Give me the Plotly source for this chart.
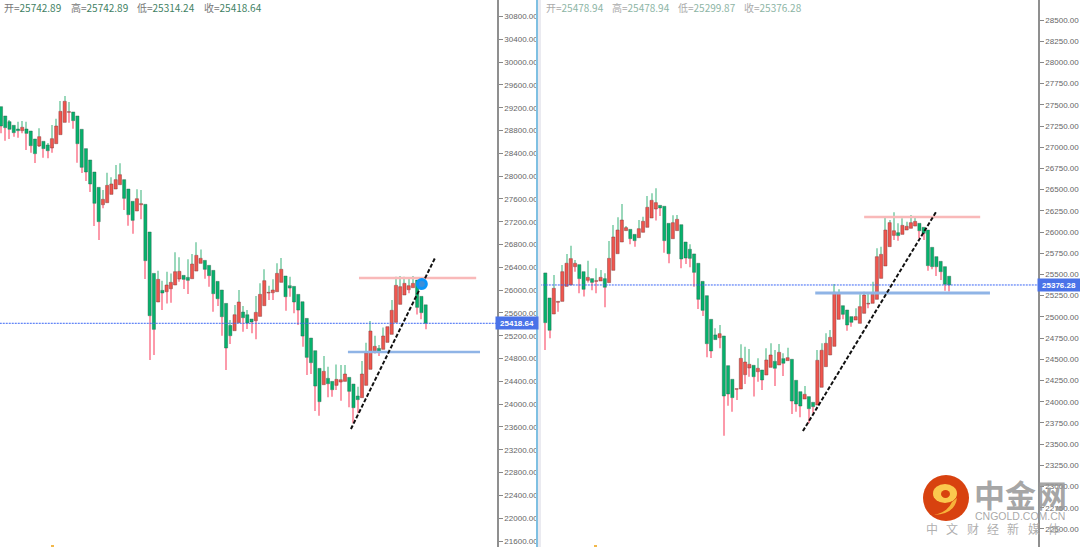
import plotly.graph_objects as go

W, H = 1080, 547

# ---------- left panel data ----------
left_open = [29218,29055,28955,28891,28826,28797,28826,28791,28651,28528,28610,28546,28493,28569,28727,28943,29119,29125,29055,28821,
28482,28283,28072,27803,27499,27534,27680,27774,27850,27938,27774,27558,27388,27499,27505,27020,26294,25792,25996,25973,
26025,26090,26195,26259,26224,26201,26335,26470,26522,26435,26347,26154,26002,25768,25382,25289,25429,25616,25569,25493,
25464,25540,25727,25950,25955,25973,26137,26248,26078,26066,25926,25797,25505,25160,24938,24628,24342,24453,24400,24330,
24389,24400,24470,24353,24143,24114,24330,24611,24938,24979,24962,25084,25225,25435,25751,25915,26008,26043,26178,25891,25742.89]
left_high = [29218,29055,28984,28891,28955,28967,28955,28791,28651,28838,28610,28575,28897,29008,29318,29405,29300,29125,29055,28821,
28482,28283,28072,27803,27757,28060,27979,28195,28224,27938,27774,27558,27768,27757,27505,27020,26294,26341,26166,26324,
26294,26663,26575,26259,26540,26634,26838,26715,26522,26435,26347,26154,26002,25768,25476,25739,26002,25721,25651,25493,
25897,26119,26365,26078,26189,26470,26563,26248,26236,26066,25926,25797,25505,25160,24938,24628,24845,24658,24400,24698,
24687,24687,24470,24353,24307,24757,25078,25459,25201,25038,25347,25359,25827,26236,26248,26236,26225,26248,26178,25891,25742.89]
left_low = [28750,28622,28651,28692,28674,28750,28458,28411,28230,28517,28324,28312,28411,28569,28727,28943,28938,28832,28236,28055,
27914,27721,27125,26879,27435,27534,27680,27774,27850,27406,27131,26990,27388,27242,26195,24774,24862,25792,25651,25768,
25780,26090,26148,26020,25932,26201,26335,26470,26201,26061,25622,25721,25201,24599,25055,25289,25429,25271,25318,25242,
25137,25540,25727,25827,25827,25973,26137,25640,25885,25593,25388,25008,24511,24529,23880,23798,24342,24120,24131,24248,
24061,24400,23944,23664,23839,24114,24330,24611,24891,24845,24962,25084,25225,25435,25751,25915,25944,26043,25575,25488,25314.24]
left_close = [28879,28850,28821,28762,28797,28856,28750,28534,28394,28692,28482,28446,28657,28879,29136,29312,29131,28973,28569,28154,
28072,27862,27523,27201,27593,27838,27862,27938,28025,27610,27324,27224,27604,27517,26517,25552,25312,26189,25950,26090,
26137,26324,26330,26189,26172,26458,26610,26558,26365,26254,25938,25850,25534,24985,25201,25569,25792,25517,25423,25441,
25610,25926,26166,25961,26002,26294,26365,25885,26037,25792,25651,25195,24821,24728,24318,24044,24576,24359,24254,24435,
24429,24529,24225,23938,24079,24529,24897,25283,25014,24932,25196,25359,25646,26084,26061,26119,26078,26119,25698,25605,25418.64]

# ---------- right panel data ----------
right_open = [25518,25223,25034,25172,25183,25360,25376,25592,25616,25533,25431,25451,25419,25423,25451,25404,25549,25745,25883,26017,
26032,25973,25934,25997,26056,26166,26272,26315,26304,26103,25922,26017,26087,25883,25797,25742,25632,25419,25250,24971,
24787,24755,24775,24425,24264,24146,24150,24319,24398,24429,24354,24374,24315,24405,24476,24433,24508,24484,24500,24252,
24118,24032,24060,23993,23961,24170,24413,24551,24653,24971,25132,25081,25003,24963,24924,25042,25152,25160,25207,25454,
25600,25828,25961,25993,25973,26024,26044,26071,26103,26056,26024,25820,25710,25655,25592,25478.94]
right_high = [25518,25223,25494,25183,25612,25742,25840,25671,25616,25533,25663,25451,25573,25553,25514,25895,26083,26174,26331,26060,
26032,25973,26142,26182,26425,26457,26516,26315,26304,26103,26197,26201,26087,25883,25856,25742,25632,25419,25250,24971,
24865,24904,24775,24425,24264,24154,24676,24649,24621,24429,24511,24374,24629,24688,24610,24680,24570,24637,24500,24252,
24118,24185,24060,23993,24610,24688,24806,24846,25388,25325,25132,25081,25003,25101,25266,25297,25278,25415,25808,25828,
26189,26142,26233,26103,26162,26123,26201,26182,26103,26056,26024,25820,25710,25655,25592,25478.94]
right_low = [24610,24747,25034,25062,25183,25360,25376,25533,25278,25239,25404,25313,25278,25423,25113,25404,25549,25745,25883,26017,
25856,25828,25934,25997,26056,26166,26135,26190,25757,25632,25922,26017,25573,25624,25584,25356,25093,25011,24523,24515,
24732,24629,23600,23953,23883,24020,24150,24209,24295,24060,24236,24138,24315,24405,24185,24433,24303,24484,23855,23883,
23816,24032,23745,23863,23961,24170,24413,24551,24653,24971,24971,24838,24885,24963,24924,25042,25101,25160,25207,25454,
25600,25828,25906,25899,25973,26024,26044,26071,25926,25906,25545,25561,25482,25435,25309,25299.87]
right_close = [24932,24842,25337,25183,25533,25632,25687,25632,25451,25325,25466,25407,25427,25466,25349,25690,25942,26024,26142,26052,
25922,25899,26040,26127,26292,26374,26347,26284,25899,25745,26111,26150,25683,25694,25690,25525,25207,25077,24684,24598,
24732,24802,24067,24091,24048,24154,24511,24468,24441,24295,24394,24256,24492,24551,24394,24582,24453,24519,24008,23973,
23949,24087,23918,23942,24488,24606,24688,24759,25290,25278,25030,24904,24936,25003,25121,25258,25160,25266,25710,25737,
26024,26111,26016,25958,26079,26068,26111,26126,26016,25985,25604,25592,25592,25533,25384,25376.28]

left_last, right_last = 25418.64, 25376.28
left_ticks = list(range(21600, 31000, 400))
right_ticks = list(range(22250, 28750, 250))

left_pink = ([84.3, 111.9], [26213, 26213])
left_blue = ([81.7, 112.8], [24915, 24915])
left_trend = ([82.4, 102.2], [23564, 26564])
left_dot = (99.1, 26108)
right_pink = ([75, 102.3], [26177, 26177])
right_blue = ([63.5, 104.6], [25281, 25281])
right_trend = ([60.6, 91.9], [23654, 26236])

GREEN, RED = "#05b26c", "#f0564e"
GREEN_EDGE, RED_EDGE = "rgba(40,90,70,0.6)", "rgba(120,50,50,0.65)"
UP_WICK, LOW_WICK = "#9ad8bb", "#fc9aaa"

fig = go.Figure()

def candles(o, h, l, c, xa, ya):
    x = list(range(len(o)))
    tops = [max(a, b) for a, b in zip(o, c)]
    bots = [min(a, b) for a, b in zip(o, c)]
    common = dict(xaxis=xa, yaxis=ya, hoverinfo="skip", showlegend=False)
    fig.add_bar(x=x, base=tops, y=[a - b for a, b in zip(h, tops)], width=0.24,
                marker=dict(color=UP_WICK, line_width=0), **common)
    fig.add_bar(x=x, base=l, y=[a - b for a, b in zip(bots, l)], width=0.24,
                marker=dict(color=LOW_WICK, line_width=0), **common)
    up = [b >= a for a, b in zip(o, c)]
    fig.add_bar(x=x, base=bots, y=[a - b for a, b in zip(tops, bots)], width=0.74,
                marker=dict(color=[RED if u else GREEN for u in up],
                            line=dict(color=[RED_EDGE if u else GREEN_EDGE for u in up], width=0.7)),
                **common)

candles(left_open, left_high, left_low, left_close, "x", "y")
candles(right_open, right_high, right_low, right_close, "x2", "y2")

def seg(xy, xa, ya, color, width, dash="solid"):
    fig.add_scatter(x=xy[0], y=xy[1], xaxis=xa, yaxis=ya, mode="lines", hoverinfo="skip",
                    showlegend=False, line=dict(color=color, width=width, dash=dash))

PRICE = "#3a66f5"
seg(([-1, 120], [left_last, left_last]), "x", "y", PRICE, 1, "2px,1px")
seg(([-2, 120], [right_last, right_last]), "x2", "y2", PRICE, 1, "2px,1px")
seg(left_pink, "x", "y", "#f9b9b9", 2.5)
seg(left_blue, "x", "y", "#8fb4e6", 2.5)
seg(left_trend, "x", "y", "#111111", 2, "4px,2px")
seg(right_pink, "x2", "y2", "#f9b9b9", 2.5)
seg(right_blue, "x2", "y2", "#8fb4e6", 3)
seg(right_trend, "x2", "y2", "#111111", 2, "4px,2px")
fig.add_scatter(x=[left_dot[0]], y=[left_dot[1]], xaxis="x", yaxis="y", mode="markers", hoverinfo="skip",
                showlegend=False, marker=dict(size=9, color="#3f8fd8", line=dict(color="#0a96fa", width=3)))

def px(v): return v / W
def py(v): return 1 - v / H

axis_common = dict(showgrid=False, zeroline=False, fixedrange=True)
yax = dict(side="right", tickformat=".2f", ticks="outside", ticklen=4, tickwidth=1, tickcolor="#888",
           showline=True, linecolor="#8f8f8f", linewidth=1.5,
           tickfont=dict(family="Liberation Sans", size=8, color="#666"), **axis_common)

fig.update_layout(
    width=W, height=H, margin=dict(l=0, r=0, t=0, b=0), autosize=False,
    paper_bgcolor="white", plot_bgcolor="white", barmode="overlay", showlegend=False,
    xaxis=dict(domain=[0, px(497)], range=[-0.235, 116.8], visible=False, **axis_common),
    xaxis2=dict(domain=[px(541), px(1038)], range=[-1.01, 115.9], visible=False, **axis_common),
    yaxis=dict(anchor="x", range=[21495, 31089], tickvals=left_ticks, **yax),
    yaxis2=dict(anchor="x2", range=[22287, 28736], tickvals=right_ticks, **yax),
)

shapes = [
    dict(type="rect", xref="paper", yref="paper", x0=px(538), x1=px(541), y0=0, y1=1,
         fillcolor="#eaeaf0", line_width=0, layer="below"),
    dict(type="line", xref="paper", yref="paper", x0=px(537), x1=px(537), y0=0, y1=1,
         line=dict(color="#7fc0e2", width=2)),
    # small marks cut off by the bottom edge
    dict(type="rect", xref="paper", yref="paper", x0=px(51), x1=px(54), y0=py(547), y1=py(545),
         fillcolor="#f2b84a", line_width=0),
    dict(type="rect", xref="paper", yref="paper", x0=px(594), x1=px(597), y0=py(547), y1=py(545),
         fillcolor="#f2b84a", line_width=0),
    # watermark logo
    dict(type="circle", xref="paper", yref="paper", x0=px(923), x1=px(969), y0=py(521), y1=py(475),
         fillcolor="#d8420f", line_width=0),
    dict(type="circle", xref="paper", yref="paper", x0=px(933), x1=px(957), y0=py(503), y1=py(484),
         fillcolor="#fbc94e", line_width=0),
    dict(type="circle", xref="paper", yref="paper", x0=px(941), x1=px(950), y0=py(498), y1=py(490),
         fillcolor="#d8420f", line_width=0),
    dict(type="path", xref="paper", yref="paper", fillcolor="#f7b23a", line_width=0,
         path=(f"M {px(934)} {py(515)} Q {px(948)} {py(512)} {px(952)} {py(502)} "
               f"L {px(957)} {py(498)} Q {px(955)} {py(514)} {px(934)} {py(515)} Z")),
]
fig.update_layout(shapes=shapes)

def note(x, y, text, size, color, family="Liberation Sans", anchor="left", **kw):
    fig.add_annotation(xref="paper", yref="paper", x=px(x), y=py(y), text=text, showarrow=False,
                       xanchor=anchor, yanchor="middle",
                       font=dict(size=size, color=color, family=family), **kw)

def header(x, pairs, lab, val, step):
    for i, (k, v) in enumerate(pairs):
        note(x + i * step, 7, f'<span style="color:{lab}">{k}=</span>{v}', 10, val,
             family="Noto Sans CJK SC, Noto Sans")

header(2, [("开", "25742.89"), ("高", "25742.89"), ("低", "25314.24"), ("收", "25418.64")], "#777", "#3f7f63", 66.5)
header(544, [("开", "25478.94"), ("高", "25478.94"), ("低", "25299.87"), ("收", "25376.28")], "#aaa", "#8db5a5", 66)

fig.add_annotation(xref="paper", yref="y", x=px(517), y=left_last, text=f"<b>{left_last:.2f}</b>", showarrow=False,
                   xanchor="center", yanchor="middle", width=40, height=10, bgcolor="#4a72e8", borderpad=1,
                   font=dict(size=8, color="white", family="Liberation Sans"))
fig.add_annotation(xref="paper", yref="y2", x=px(1059), y=right_last, text=f"<b>{right_last:.2f}</b>", showarrow=False,
                   xanchor="center", yanchor="middle", width=40, height=10, bgcolor="#4a72e8", borderpad=1,
                   font=dict(size=8, color="white", family="Liberation Sans"))

# watermark text
note(1020, 493, "<b>中金网</b>", 31, "rgba(150,150,150,0.85)", family="Noto Sans CJK SC", anchor="center")
note(1020, 516, "CNGOLD.COM.CN", 10.5, "rgba(160,160,160,0.9)", anchor="center")
for i, ch in enumerate("中文财经新媒体"):
    note(932 + i * 20.3, 528, ch, 12, "rgba(165,165,165,0.9)", family="Noto Sans CJK SC", anchor="center")

fig.write_html("out.html", config=dict(displayModeBar=False),
               post_script="document.body.style.margin='0';document.documentElement.style.overflow='hidden';")
